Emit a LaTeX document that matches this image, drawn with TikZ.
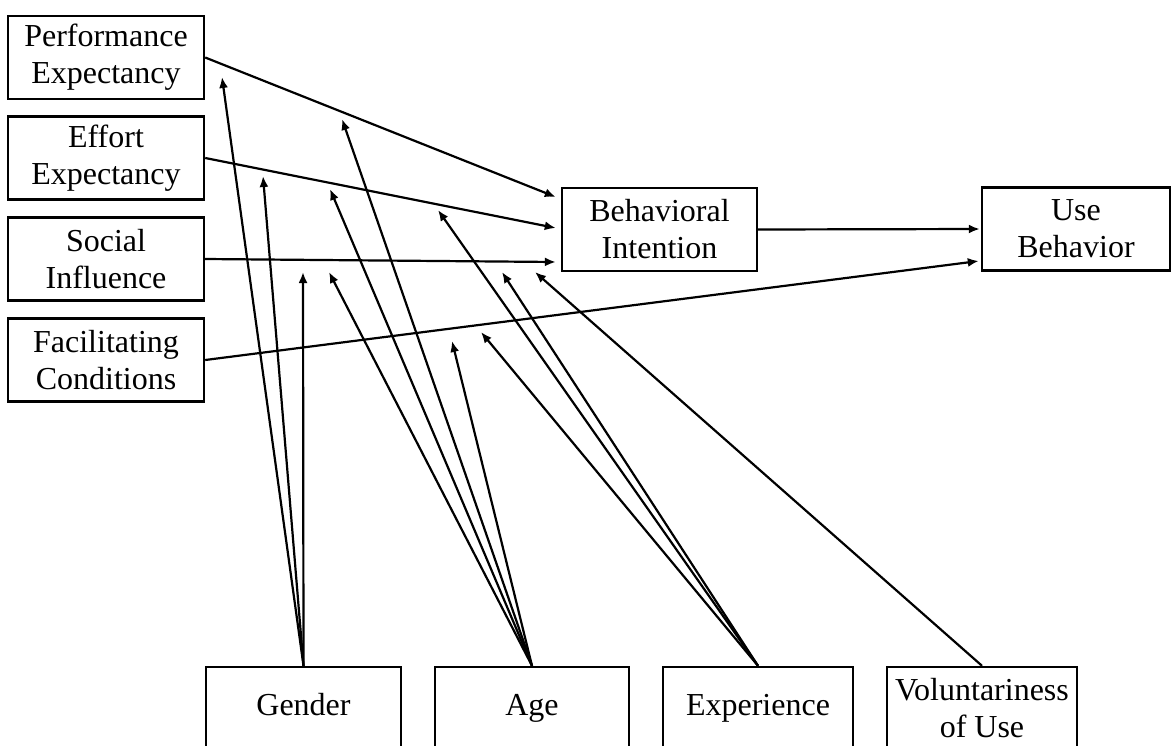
\documentclass[tikz,border=0pt]{standalone}
\usepackage{fontspec}
\setmainfont{Liberation Serif}
\usetikzlibrary{calc, arrows.meta}
\tikzset{>={Latex[length=11pt,width=9pt]},
  box/.style={draw, line width=2.4pt, minimum width=196pt, minimum height=83pt,
    inner sep=0pt, align=center, font=\fontsize{32}{37}\selectfont},
  link/.style={->, line width=2.2pt}}

\begin{document}
\begin{tikzpicture}[x=1pt,y=-1pt]
\useasboundingbox (0,0) rectangle (1172,745);
% determinants
\node[box] (PE) at (106,57.5) {Performance\\Expectancy};
\node[box] (EE) at (106,158) {Effort\\Expectancy};
\node[box] (SI) at (106,259) {Social\\Influence};
\node[box] (FC) at (106,360) {Facilitating\\Conditions};
\node[box,minimum width=195pt] (BI) at (659.5,229.5) {Behavioral\\Intention};
\node[box,minimum width=188pt] (UB) at (1076,229) {Use\\Behavior};
% moderators
\node[box,minimum width=195pt] (G) at (303.5,708.5) {\strut Gender};
\node[box,minimum width=194pt] (A) at (532,708.5) {\strut Age};
\node[box,minimum width=190pt] (E) at (758,708.5) {\strut Experience};
\node[box,minimum width=190pt] (V) at (982,708.5) {Voluntariness\\of Use};
% main paths
\draw[link] (PE.east) -- ($(BI.west)+(-5,-32.5)$);
\draw[link] (EE.east) -- ($(BI.west)+(-5,-1.5)$);
\draw[link] (SI.east) -- ($(BI.west)+(-5,32.5)$);
\draw[link] (BI.east) -- ($(UB.west)+(-1,0)$);
\draw[link] (FC.east) -- ($(UB.west)+(-2,32)$);
% moderating effects
\coordinate (gPE) at (222,77);
\coordinate (gEE) at (263,176);
\coordinate (gSI) at (303,272);
\coordinate (aPE) at (342,119);
\coordinate (aEE) at (330,189);
\coordinate (aSI) at (329,272);
\coordinate (aFC) at (452,341);
\coordinate (eEE) at (438,210);
\coordinate (eSI) at (502,272);
\coordinate (eFC) at (481,332);
\coordinate (vSI) at (535,272);
\foreach \t in {gPE,gEE,gSI} \draw[link] (G.north) -- (\t);
\foreach \t in {aPE,aEE,aSI,aFC} \draw[link] (A.north) -- (\t);
\foreach \t in {eEE,eSI,eFC} \draw[link] (E.north) -- (\t);
\draw[link] (V.north) -- (vSI);
\end{tikzpicture}
\end{document}
